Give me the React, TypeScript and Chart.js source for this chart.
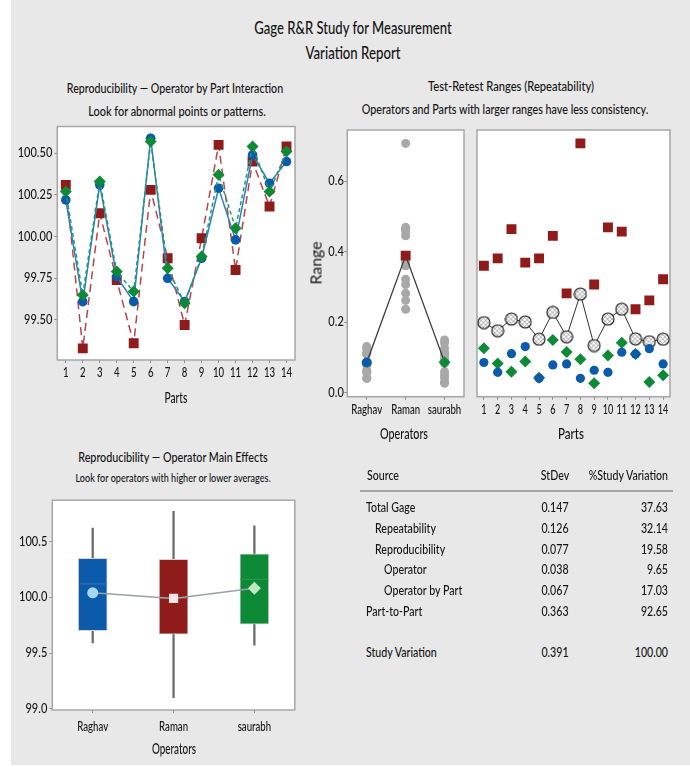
import React, { useEffect, useRef } from 'react';
import { Chart, registerables } from 'chart.js';
Chart.register(...registerables);

const FONT = 'Lato, "Noto Sans", sans-serif';

// ---------- data ----------
const parts = ['1', '2', '3', '4', '5', '6', '7', '8', '9', '10', '11', '12', '13', '14'];
const operators = ['Raghav', 'Raman', 'saurabh'];

// Operator by part averages
const raghavAvg = [100.22, 99.61, 100.31, 99.76, 99.61, 100.59, 99.75, 99.61, 99.87, 100.29, 99.98, 100.49, 100.32, 100.45];
const ramanAvg = [100.31, 99.33, 100.14, 99.74, 99.36, 100.28, 99.87, 99.47, 99.99, 100.55, 99.8, 100.45, 100.18, 100.54];
const saurabhAvg = [100.27, 99.65, 100.33, 99.79, 99.67, 100.57, 99.81, 99.6, 99.88, 100.37, 100.05, 100.54, 100.27, 100.51];
const interactionTicks = [99.5, 99.75, 100.0, 100.25, 100.5];

// Test-retest ranges
const raghavRange = [0.086, 0.058, 0.111, 0.131, 0.041, 0.079, 0.082, 0.041, 0.064, 0.058, 0.115, 0.11, 0.125, 0.082];
const ramanRange = [0.36, 0.381, 0.464, 0.369, 0.381, 0.445, 0.282, 0.707, 0.307, 0.469, 0.457, 0.237, 0.262, 0.322];
const saurabhRange = [0.126, 0.083, 0.06, 0.089, 0.043, 0.15, 0.116, 0.095, 0.027, 0.106, 0.142, 0.11, 0.031, 0.05];
const partMeanRange = [0.199, 0.176, 0.209, 0.201, 0.152, 0.228, 0.159, 0.28, 0.134, 0.209, 0.237, 0.153, 0.145, 0.152];
const operatorMeanRange = [0.086, 0.389, 0.087];
const rangeTicks = [0.0, 0.2, 0.4, 0.6];

// Operator main effects (box plot)
const boxMin = [99.59, 99.1, 99.57];
const boxQ1 = [99.7, 99.67, 99.76];
const boxMedian = [100.12, 99.99, 100.16];
const boxQ3 = [100.35, 100.34, 100.39];
const boxMax = [100.62, 100.77, 100.64];
const boxMean = [100.04, 99.99, 100.08];
const boxTicks = [99.0, 99.5, 100.0, 100.5];

// Variance components table
const sources = ['Total Gage', 'Repeatability', 'Reproducibility', 'Operator', 'Operator by Part', 'Part-to-Part', 'Study Variation'];
const sourceIndent = [0, 1, 1, 2, 2, 0, 0];
const stDev = ['0.147', '0.126', '0.077', '0.038', '0.067', '0.363', '0.391'];
const studyVar = ['37.63', '32.14', '19.58', '9.65', '17.03', '92.65', '100.00'];

// ---------- styles ----------
const BLUE = '#0B5AAB';
const RED = '#8F1B1B';
const GREEN = '#0D8A36';
const TEXT = '#141414';
const TICK_MARK = '#8a8a8a';

const plotFrame = {
  id: 'plotFrame',
  beforeDraw(chart: any) {
    const { ctx, chartArea: a } = chart;
    ctx.save();
    ctx.fillStyle = '#ffffff';
    ctx.fillRect(a.left, a.top, a.right - a.left, a.bottom - a.top);
    ctx.restore();
  },
  beforeDatasetsDraw(chart: any) {
    const { ctx, chartArea: a } = chart;
    ctx.save();
    ctx.strokeStyle = '#a6a6a6';
    ctx.lineWidth = 1.5;
    ctx.strokeRect(a.left, a.top, a.right - a.left, a.bottom - a.top);
    ctx.restore();
  },
};

// Draws the axes' own tick labels in a horizontally condensed face
const narrowTicks = {
  id: 'narrowTicks',
  afterDraw(chart: any, _args: any, opts: any) {
    const { ctx } = chart;
    const size = opts.size || 13;
    Object.keys(chart.scales).forEach((key) => {
      const scale = chart.scales[key];
      if (!scale.options.display) return;
      const horiz = scale.isHorizontal();
      const sx = horiz ? opts.xsx : opts.ysx;
      ctx.save();
      ctx.font = `500 ${size}px ${FONT}`;
      ctx.fillStyle = TEXT;
      ctx.textBaseline = 'middle';
      scale.ticks.forEach((t: any, i: number) => {
        const text = String(t.label);
        const p = scale.getPixelForTick(i);
        ctx.save();
        if (horiz) {
          ctx.translate(p, scale.top + opts.xGap);
          ctx.scale(sx, 1);
          ctx.textAlign = 'center';
        } else {
          ctx.translate(scale.right - opts.yGap, p);
          ctx.scale(sx, 1);
          ctx.textAlign = 'right';
        }
        ctx.fillText(text, 0, 0);
        ctx.restore();
      });
      ctx.restore();
    });
  },
};

function yScale(min: number, max: number, ticks: number[], width: number, digits: number, display = true) {
  return {
    type: 'linear',
    display,
    min,
    max,
    afterBuildTicks: (s: any) => {
      s.ticks = ticks.map((v) => ({ value: v }));
    },
    afterFit: (s: any) => {
      s.width = width;
    },
    ticks: {
      display: false,
      callback: (v: any) => Number(v).toFixed(digits),
    },
    grid: { display: true, drawOnChartArea: false, drawTicks: true, tickLength: 3, color: TICK_MARK },
    border: { display: false },
  };
}

function xScale(height: number) {
  return {
    type: 'category',
    offset: true,
    afterFit: (s: any) => {
      s.height = height;
    },
    ticks: { display: false, autoSkip: false, maxRotation: 0, minRotation: 0 },
    grid: { display: true, offset: false, drawOnChartArea: false, drawTicks: true, tickLength: 3, color: TICK_MARK },
    border: { display: false },
  };
}

function baseOptions(padding: any, scales: any, tickOpts: any) {
  return {
    animation: false,
    responsive: false,
    maintainAspectRatio: false,
    events: [],
    layout: { padding },
    plugins: {
      legend: { display: false },
      tooltip: { enabled: false },
      narrowTicks: { size: 13, xsx: 0.74, ysx: 0.85, xGap: 13, yGap: 5, ...tickOpts },
    },
    scales,
  };
}

function hatchMarker() {
  const c = document.createElement('canvas');
  c.width = 14;
  c.height = 14;
  const g = c.getContext('2d')!;
  g.beginPath();
  g.arc(7, 7, 6, 0, Math.PI * 2);
  g.fillStyle = '#fff';
  g.fill();
  g.save();
  g.clip();
  g.strokeStyle = '#777';
  g.lineWidth = 0.6;
  for (let k = -14; k <= 14; k += 4.5) {
    g.beginPath();
    g.moveTo(k, 0);
    g.lineTo(k + 14, 14);
    g.stroke();
    g.beginPath();
    g.moveTo(k + 14, 0);
    g.lineTo(k, 14);
    g.stroke();
  }
  g.restore();
  g.beginPath();
  g.arc(7, 7, 6, 0, Math.PI * 2);
  g.strokeStyle = '#1a1a1a';
  g.lineWidth = 1.1;
  g.stroke();
  return c;
}

// ---------- chart configs ----------
function interactionConfig() {
  return {
    type: 'line',
    data: {
      labels: parts,
      datasets: [
        {
          label: 'saurabh',
          data: saurabhAvg,
          borderColor: '#1f9a6a',
          borderWidth: 1.5,
          borderDash: [4, 3],
          pointStyle: 'rectRot',
          pointRadius: 6,
          pointBackgroundColor: GREEN,
          pointBorderColor: GREEN,
          pointBorderWidth: 0,
        },
        {
          label: 'Raghav',
          data: raghavAvg,
          borderColor: '#2f7fc0',
          borderWidth: 1.5,
          pointStyle: 'circle',
          pointRadius: 4.8,
          pointBackgroundColor: BLUE,
          pointBorderColor: BLUE,
          pointBorderWidth: 0,
        },
        {
          label: 'Raman',
          data: ramanAvg,
          borderColor: '#b8444a',
          borderWidth: 1.5,
          borderDash: [8, 5],
          pointStyle: 'rect',
          pointRadius: 7,
          pointBackgroundColor: RED,
          pointBorderColor: RED,
          pointBorderWidth: 0,
        },
      ],
    },
    options: baseOptions(
      { left: 0, top: 11.5, right: 15, bottom: 0 },
      { x: xScale(65), y: yScale(99.26, 100.66, interactionTicks, 57.3, 2) },
      { xGap: 13, yGap: 5 }
    ),
    plugins: [plotFrame, narrowTicks],
  };
}

function rangeByOperatorConfig() {
  const dots = [
    ...raghavRange.map((v) => ({ x: operators[0], y: v })),
    ...ramanRange.map((v) => ({ x: operators[1], y: v })),
    ...saurabhRange.map((v) => ({ x: operators[2], y: v })),
  ];
  return {
    type: 'line',
    data: {
      labels: operators,
      datasets: [
        {
          label: 'Mean',
          data: operatorMeanRange,
          borderColor: '#3a3a3a',
          borderWidth: 1.3,
          pointStyle: ['circle', 'rect', 'rectRot'],
          pointRadius: [5, 7, 6],
          pointBackgroundColor: [BLUE, RED, GREEN],
          pointBorderColor: [BLUE, RED, GREEN],
          pointBorderWidth: 0,
        },
        {
          label: 'Ranges',
          data: dots,
          showLine: false,
          pointStyle: 'circle',
          pointRadius: 4.5,
          pointBackgroundColor: '#a8a8a8',
          pointBorderColor: '#a8a8a8',
          pointBorderWidth: 0,
        },
      ],
    },
    options: baseOptions(
      { left: 0, top: 15, right: 6, bottom: 0 },
      { x: xScale(28.3), y: yScale(-0.011, 0.745, rangeTicks, 47.3, 1) },
      { xGap: 13, yGap: 3.5 }
    ),
    plugins: [plotFrame, narrowTicks],
  };
}

function rangeByPartConfig() {
  const marker = hatchMarker();
  return {
    type: 'line',
    data: {
      labels: parts,
      datasets: [
        {
          label: 'Raman',
          data: ramanRange,
          showLine: false,
          pointStyle: 'rect',
          pointRadius: 7,
          pointBackgroundColor: RED,
          pointBorderColor: RED,
          pointBorderWidth: 0,
        },
        {
          label: 'Raghav',
          data: raghavRange,
          showLine: false,
          pointStyle: 'circle',
          pointRadius: 4.6,
          pointBackgroundColor: BLUE,
          pointBorderColor: BLUE,
          pointBorderWidth: 0,
        },
        {
          label: 'saurabh',
          data: saurabhRange,
          showLine: false,
          pointStyle: 'rectRot',
          pointRadius: 6,
          pointBackgroundColor: GREEN,
          pointBorderColor: GREEN,
          pointBorderWidth: 0,
        },
        {
          label: 'Mean',
          data: partMeanRange,
          borderColor: '#333',
          borderWidth: 1,
          pointStyle: marker,
          pointRadius: 6,
        },
      ],
    },
    options: baseOptions(
      { left: 2.3, top: 15, right: 20, bottom: 0 },
      { x: xScale(28.3), y: yScale(-0.011, 0.745, rangeTicks, 0, 1, false) },
      { xGap: 13, xsx: 0.7 }
    ),
    plugins: [plotFrame, narrowTicks],
  };
}

function mainEffectsConfig() {
  return {
    type: 'bar',
    data: {
      labels: operators,
      datasets: [
        {
          type: 'line',
          label: 'Mean',
          data: boxMean,
          borderColor: '#98a2aa',
          borderWidth: 1.5,
          pointStyle: ['circle', 'rect', 'rectRot'],
          pointRadius: [5.5, 6.5, 6.5],
          pointBackgroundColor: ['#a9d6f2', '#f4e6e2', '#bfe8c2'],
          pointBorderColor: ['#a9d6f2', '#f4e6e2', '#bfe8c2'],
          pointBorderWidth: 0,
        },
        {
          type: 'line',
          label: 'Median',
          data: boxMedian,
          showLine: false,
          pointStyle: 'line',
          pointRadius: 14,
          pointBorderColor: ['#3a6ea8', '#a53c3c', '#2f8f4d'],
          pointBorderWidth: 1.2,
        },
        {
          type: 'bar',
          label: 'IQR',
          data: operators.map((_, i) => [boxQ1[i], boxQ3[i]]),
          backgroundColor: [BLUE, RED, GREEN],
          borderColor: '#d6d6d6',
          borderWidth: 1,
          borderSkipped: false,
          barThickness: 29,
          grouped: false,
        },
        {
          type: 'bar',
          label: 'Whisker',
          data: operators.map((_, i) => [boxMin[i], boxMax[i]]),
          backgroundColor: '#6a6a6a',
          borderWidth: 0,
          barThickness: 1.6,
          grouped: false,
        },
      ],
    },
    options: baseOptions(
      { left: 0, top: 8.3, right: 14, bottom: 0 },
      { x: xScale(57), y: yScale(98.99, 100.87, boxTicks, 52.3, 1) },
      { xGap: 16.5, yGap: 5 }
    ),
    plugins: [plotFrame, narrowTicks],
  };
}

// ---------- components ----------
let measureCtx: CanvasRenderingContext2D | null = null;
function measure(text: string, size: number, weight: number | string = 400) {
  if (!measureCtx) measureCtx = document.createElement('canvas').getContext('2d');
  measureCtx!.font = `${weight} ${size}px ${FONT}`;
  return measureCtx!.measureText(text).width;
}

function Label(props: {
  text: string;
  x: number;
  y: number;
  size?: number;
  w?: number;
  sx?: number;
  align?: 'left' | 'center' | 'right';
  rotate?: number;
  color?: string;
  weight?: number;
}) {
  const { text, x, y, size = 13, w, sx, align = 'center', rotate = 0, color = TEXT, weight = 500 } = props;
  const scale = sx !== undefined ? sx : w ? w / measure(text, size, weight) : 1;
  const tx = align === 'center' ? '-50%' : align === 'right' ? '-100%' : '0';
  const origin = align === 'center' ? 'center center' : align === 'right' ? 'right center' : 'left center';
  return (
    <div
      style={{
        position: 'absolute',
        left: x,
        top: y,
        fontFamily: FONT,
        fontSize: size,
        fontWeight: weight,
        color,
        whiteSpace: 'nowrap',
        lineHeight: 1,
        transform: `translate(${tx}, -50%) rotate(${rotate}deg) scaleX(${scale})`,
        transformOrigin: origin,
      }}
    >
      {text}
    </div>
  );
}

function ChartBox(props: { left: number; top: number; width: number; height: number; make: () => any }) {
  const ref = useRef<HTMLCanvasElement>(null);
  useEffect(() => {
    const chart = new Chart(ref.current as HTMLCanvasElement, props.make());
    return () => chart.destroy();
  }, []);
  return (
    <canvas
      ref={ref}
      width={props.width}
      height={props.height}
      style={{ position: 'absolute', left: props.left, top: props.top, width: props.width, height: props.height }}
    />
  );
}

export default function App() {
  const tableSize = 14;
  const tableScale = 80 / measure('%Study Variation', tableSize, 500);
  const rowY = sources.map((_, i) => (i < 6 ? 507 + i * 20.8 : 652));
  const indentX = [366, 375, 383.5];

  return (
    <div style={{ position: 'fixed', left: 0, top: 0, width: 690, height: 767, background: '#ffffff', overflow: 'hidden' }}>
      <div style={{ position: 'absolute', left: 11, top: 0, width: 679, height: 765, background: '#e8e8e8' }} />

      <Label text="Gage R&R Study for Measurement" x={352.5} y={27} size={18} w={198} />
      <Label text="Variation Report" x={352.5} y={52} size={18} w={95} />

      <Label text="Reproducibility — Operator by Part Interaction" x={175.3} y={88.3} size={14} w={217} />
      <Label text="Look for abnormal points or patterns." x={176.7} y={110.7} size={14} w={178} />

      <Label text="Test-Retest Ranges (Repeatability)" x={510.5} y={86} size={14} w={166} />
      <Label text="Operators and Parts with larger ranges have less consistency." x={505} y={109.3} size={14} w={287} />

      <Label text="Reproducibility — Operator Main Effects" x={173.3} y={456.7} size={14} w={190} />
      <Label text="Look for operators with higher or lower averages." x={172.8} y={478.3} size={12} w={196} />

      <ChartBox left={0} top={115} width={310} height={310} make={interactionConfig} />
      <ChartBox left={300} top={115} width={170} height={310} make={rangeByOperatorConfig} />
      <ChartBox left={470} top={115} width={220} height={310} make={rangeByPartConfig} />
      <ChartBox left={0} top={485} width={310} height={282} make={mainEffectsConfig} />

      <Label text="Parts" x={175.5} y={396.7} size={15} w={23} />
      <Label text="Range" x={315.5} y={263.3} size={15} w={43} rotate={-90} weight={400} />
      <Label text="Operators" x={404} y={433} size={15} w={48} />
      <Label text="Parts" x={571} y={433} size={15} w={26} />
      <Label text="Operators" x={173.8} y={748.3} size={15} w={44} />

      <Label text="Source" x={366.7} y={475} size={tableSize} sx={tableScale} align="left" />
      <Label text="StDev" x={555} y={475} size={tableSize} sx={tableScale} />
      <Label text="%Study Variation" x={668.3} y={475} size={tableSize} sx={tableScale} align="right" />
      <div style={{ position: 'absolute', left: 360, top: 490, width: 313, height: 2, background: '#a4a4a4' }} />
      {sources.map((s, i) => (
        <React.Fragment key={s}>
          <Label text={s} x={indentX[sourceIndent[i]]} y={rowY[i]} size={tableSize} sx={tableScale} align="left" />
          <Label text={stDev[i]} x={555} y={rowY[i]} size={tableSize} sx={tableScale} />
          <Label text={studyVar[i]} x={668} y={rowY[i]} size={tableSize} sx={tableScale} align="right" />
        </React.Fragment>
      ))}
    </div>
  );
}
